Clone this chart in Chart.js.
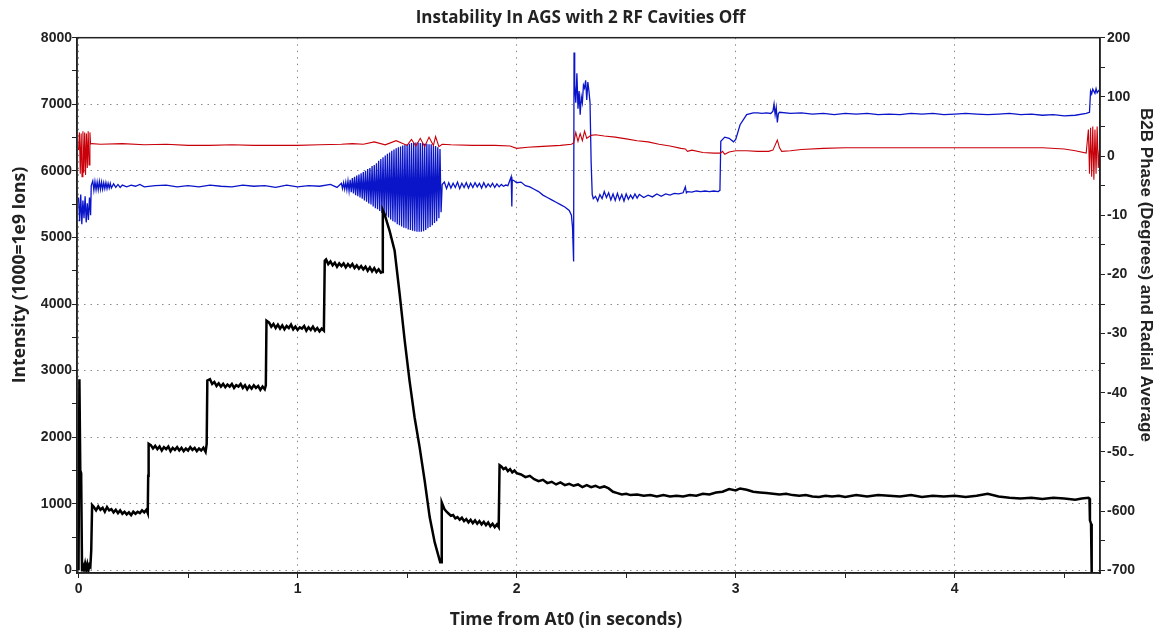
<!DOCTYPE html>
<html>
<head>
<meta charset="utf-8">
<title>Instability In AGS with 2 RF Cavities Off</title>
<script src="https://cdn.jsdelivr.net/npm/chart.js@4.4.1/dist/chart.umd.min.js"></script>
<style>
  html, body { margin: 0; padding: 0; background: #fff; overflow: hidden; }
  canvas { display: block; }
</style>
</head>
<body>
<canvas id="agsChart" width="1161" height="632"></canvas>
<script>
const chartTitle = 'Instability In AGS with 2 RF Cavities Off';
const xTitle = 'Time from At0 (in seconds)';
const leftTitle = 'Intensity (1000=1e9 Ions)';
const rightTitle = 'B2B Phase (Degrees) and Radial Average';

const xTicks = [0, 0.5, 1, 1.5, 2, 2.5, 3, 3.5, 4, 4.5];
const intensityTicks = [0, 500, 1000, 1500, 2000, 2500, 3000, 3500, 4000, 4500, 5000, 5500, 6000, 6500, 7000, 7500, 8000];
const phaseTicks = [-700, -650, -600, -550, -500, -450, -400, -350, -300, -250, -200, -150, -100, -50, 0, 50, 100, 150, 200];

// [time in s, intensity] - left axis
const intensity = [
  [0, 0], [0.004, 2870], [0.008, 1500], [0.012, 1460], [0.016, 0], [0.02, 80], [0.025, 20], [0.03, 100],
  [0.035, 10], [0.04, 90], [0.045, 0], [0.05, 80], [0.054, 60], [0.058, 300], [0.062, 980],
  [0.07, 950], [0.08, 900], [0.09, 960], [0.1, 910], [0.11, 940], [0.12, 880], [0.13, 950], [0.14, 900],
  [0.15, 920], [0.16, 870], [0.17, 910], [0.18, 860], [0.19, 900], [0.2, 850], [0.21, 880], [0.22, 840],
  [0.23, 870], [0.24, 830], [0.25, 880], [0.26, 850], [0.27, 880], [0.28, 860], [0.29, 900], [0.3, 870],
  [0.31, 910], [0.316, 860], [0.318, 1420], [0.32, 1900],
  [0.33, 1880], [0.34, 1830], [0.35, 1870], [0.36, 1820], [0.37, 1860], [0.38, 1800], [0.39, 1850], [0.4, 1820],
  [0.41, 1860], [0.42, 1790], [0.43, 1840], [0.44, 1810], [0.45, 1850], [0.46, 1800], [0.47, 1840], [0.48, 1790],
  [0.49, 1830], [0.5, 1800], [0.51, 1850], [0.52, 1810], [0.53, 1840], [0.54, 1790], [0.55, 1830], [0.56, 1800],
  [0.57, 1840], [0.58, 1780], [0.585, 1900], [0.588, 2850],
  [0.6, 2870], [0.61, 2800], [0.62, 2830], [0.63, 2770], [0.64, 2810], [0.65, 2760], [0.66, 2800], [0.67, 2750],
  [0.68, 2790], [0.69, 2760], [0.7, 2800], [0.71, 2740], [0.72, 2780], [0.73, 2760], [0.74, 2800], [0.75, 2740],
  [0.76, 2780], [0.77, 2720], [0.78, 2770], [0.79, 2730], [0.8, 2780], [0.81, 2740], [0.82, 2770], [0.83, 2710],
  [0.84, 2760], [0.85, 2720], [0.855, 2780], [0.858, 3750],
  [0.87, 3720], [0.88, 3660], [0.89, 3700], [0.9, 3640], [0.91, 3690], [0.92, 3630], [0.93, 3680], [0.94, 3620],
  [0.95, 3670], [0.96, 3640], [0.97, 3690], [0.98, 3620], [0.99, 3660], [1.0, 3610], [1.01, 3650], [1.02, 3630],
  [1.03, 3670], [1.04, 3600], [1.05, 3650], [1.06, 3610], [1.07, 3660], [1.08, 3600], [1.09, 3640], [1.1, 3590],
  [1.11, 3630], [1.12, 3600], [1.124, 4650],
  [1.13, 4670], [1.14, 4600], [1.15, 4640], [1.16, 4580], [1.17, 4620], [1.18, 4560], [1.19, 4610], [1.2, 4570],
  [1.21, 4610], [1.22, 4550], [1.23, 4600], [1.24, 4560], [1.25, 4600], [1.26, 4540], [1.27, 4580], [1.28, 4530],
  [1.29, 4570], [1.3, 4520], [1.31, 4560], [1.32, 4500], [1.33, 4550], [1.34, 4490], [1.35, 4540], [1.36, 4480],
  [1.37, 4520], [1.38, 4470], [1.386, 4480], [1.389, 5410],
  [1.397, 5350], [1.42, 5100], [1.443, 4800], [1.466, 4150], [1.489, 3450], [1.511, 2850], [1.534, 2300],
  [1.557, 1850], [1.58, 1350], [1.603, 800], [1.626, 420], [1.651, 120], [1.655, 120], [1.658, 1020],
  [1.67, 920], [1.68, 880], [1.69, 850], [1.7, 820], [1.71, 830], [1.72, 780], [1.73, 800], [1.74, 760],
  [1.75, 790], [1.76, 740], [1.77, 770], [1.78, 720], [1.79, 760], [1.8, 710], [1.81, 750], [1.82, 700],
  [1.83, 740], [1.84, 690], [1.85, 730], [1.86, 680], [1.87, 720], [1.88, 660], [1.89, 700], [1.9, 650],
  [1.91, 690], [1.918, 650], [1.922, 1580],
  [1.93, 1560], [1.94, 1520], [1.95, 1540], [1.96, 1490], [1.97, 1520], [1.98, 1470], [1.99, 1500], [2.0, 1460],
  [2.02, 1440], [2.04, 1400], [2.06, 1420], [2.08, 1370], [2.1, 1340], [2.12, 1360], [2.14, 1310], [2.16, 1330],
  [2.18, 1290], [2.2, 1320], [2.22, 1280], [2.24, 1300], [2.26, 1270], [2.28, 1290], [2.3, 1250], [2.32, 1280],
  [2.34, 1250], [2.36, 1270], [2.38, 1240], [2.4, 1260], [2.42, 1230], [2.44, 1180], [2.46, 1160], [2.48, 1140],
  [2.5, 1150], [2.52, 1130], [2.55, 1140], [2.58, 1120], [2.61, 1130], [2.64, 1110], [2.67, 1130], [2.7, 1110],
  [2.73, 1120], [2.76, 1110], [2.79, 1130], [2.82, 1120], [2.85, 1150], [2.88, 1140], [2.91, 1170], [2.94, 1180],
  [2.97, 1220], [3.0, 1200], [3.02, 1230], [3.05, 1210], [3.08, 1180], [3.11, 1170], [3.14, 1160], [3.17, 1150],
  [3.2, 1140], [3.23, 1150], [3.26, 1130], [3.29, 1120], [3.32, 1130], [3.35, 1110], [3.38, 1100], [3.41, 1120],
  [3.44, 1110], [3.47, 1120], [3.5, 1100], [3.55, 1130], [3.6, 1110], [3.65, 1130], [3.7, 1120], [3.75, 1110],
  [3.8, 1130], [3.85, 1100], [3.9, 1120], [3.95, 1110], [4.0, 1120], [4.05, 1100], [4.1, 1120], [4.15, 1150],
  [4.2, 1110], [4.25, 1090], [4.3, 1080], [4.35, 1090], [4.4, 1070], [4.45, 1090], [4.5, 1080], [4.55, 1060],
  [4.58, 1080], [4.61, 1090], [4.615, 1080], [4.617, 750], [4.622, 700], [4.625, -40]
];

// [time in s, B2B phase in degrees] - right axis
const b2bPhase = [
  [0, 10], [0.004, 40], [0.008, -30], [0.012, 38], [0.016, -35], [0.02, 42], [0.024, -28], [0.028, 40],
  [0.032, -32], [0.036, 38], [0.04, -20], [0.044, 42], [0.048, -15], [0.052, 40], [0.055, 20],
  [0.06, 21], [0.1, 20], [0.2, 21], [0.3, 19], [0.4, 20], [0.5, 18], [0.6, 18], [0.7, 19], [0.8, 18],
  [0.9, 18], [1.0, 18], [1.1, 19], [1.2, 20], [1.25, 21], [1.3, 20], [1.35, 24], [1.4, 19], [1.45, 26],
  [1.5, 18], [1.52, 28], [1.54, 17], [1.56, 30], [1.58, 16], [1.6, 32], [1.62, 18], [1.63, 33], [1.645, 16],
  [1.66, 20], [1.7, 19], [1.8, 18], [1.9, 18], [1.97, 17], [2.0, 13], [2.05, 15], [2.1, 16], [2.2, 18],
  [2.25, 20], [2.26, 22], [2.27, 40], [2.28, 25], [2.29, 38], [2.3, 26], [2.31, 42], [2.32, 30], [2.34, 35],
  [2.36, 36], [2.4, 34], [2.45, 32], [2.5, 29], [2.55, 26], [2.6, 24], [2.65, 20], [2.7, 17], [2.75, 13],
  [2.77, 12], [2.78, 8], [2.8, 10], [2.85, 6], [2.9, 5], [2.93, 5], [2.94, 8], [2.95, 3], [2.97, 7],
  [3.0, 9], [3.05, 9], [3.1, 8], [3.15, 8], [3.17, 10], [3.19, 27], [3.2, 14], [3.21, 8], [3.25, 9],
  [3.3, 11], [3.4, 13], [3.5, 14], [3.6, 14], [3.8, 14], [4.0, 14], [4.2, 14], [4.4, 14], [4.5, 12],
  [4.55, 9], [4.6, 5], [4.61, 45], [4.615, -30], [4.62, 48], [4.625, -35], [4.63, 50], [4.635, -40],
  [4.64, 45], [4.645, -30], [4.65, 50], [4.655, -20], [4.66, 10]
];

// [time in s, radial average] - right axis
const radialAverage = [
  [0, -70], [0.005, -110], [0.01, -65], [0.015, -115], [0.02, -75], [0.025, -105], [0.03, -68], [0.035, -112],
  [0.04, -80], [0.045, -108], [0.05, -70], [0.055, -100], [0.058, -50],
  [0.065, -42], [0.07, -58], [0.075, -43], [0.08, -57], [0.085, -44], [0.09, -57], [0.095, -43], [0.1, -56],
  [0.105, -44], [0.11, -56], [0.115, -45], [0.12, -55], [0.125, -45], [0.13, -55], [0.135, -46], [0.14, -54],
  [0.145, -46], [0.15, -54], [0.16, -47], [0.17, -53], [0.18, -48], [0.19, -53], [0.2, -49], [0.22, -52],
  [0.24, -49], [0.26, -51], [0.28, -48], [0.3, -52], [0.35, -50], [0.4, -49], [0.45, -52], [0.5, -50],
  [0.55, -52], [0.6, -49], [0.65, -51], [0.7, -52], [0.75, -49], [0.8, -51], [0.85, -50], [0.9, -53],
  [0.95, -49], [1.0, -52], [1.05, -50], [1.1, -51], [1.15, -48], [1.18, -53],
  [1.2, -46], [1.205, -55], [1.21, -45], [1.215, -56], [1.22, -44], [1.225, -57], [1.23, -42], [1.235, -59],
  [1.24, -40], [1.245, -61], [1.25, -37], [1.255, -63], [1.26, -35], [1.265, -66], [1.27, -33], [1.275, -68],
  [1.28, -31], [1.285, -70], [1.29, -29], [1.295, -72], [1.3, -27], [1.305, -75], [1.31, -25], [1.315, -77],
  [1.32, -22], [1.325, -80], [1.33, -20], [1.335, -82], [1.34, -17], [1.345, -85], [1.35, -15], [1.355, -88],
  [1.36, -12], [1.365, -90], [1.37, -8], [1.375, -93], [1.38, -5], [1.385, -96], [1.39, -2], [1.395, -99],
  [1.4, 1], [1.405, -101], [1.41, 4], [1.415, -104], [1.42, 6], [1.425, -107], [1.43, 9], [1.435, -110],
  [1.44, 11], [1.445, -112], [1.45, 13], [1.455, -115], [1.46, 15], [1.465, -117], [1.47, 16], [1.475, -119],
  [1.48, 18], [1.485, -121], [1.49, 19], [1.495, -122], [1.5, 20], [1.505, -124], [1.51, 21], [1.515, -125],
  [1.52, 22], [1.525, -126], [1.53, 22], [1.535, -127], [1.54, 23], [1.545, -128], [1.55, 23], [1.555, -128],
  [1.56, 22], [1.565, -128], [1.57, 22], [1.575, -127], [1.58, 21], [1.585, -125], [1.59, 21], [1.595, -122],
  [1.6, 20], [1.605, -120], [1.61, 20], [1.615, -117], [1.62, 18], [1.625, -113], [1.63, 17], [1.635, -110],
  [1.64, 15], [1.645, -105], [1.65, 12], [1.655, -95], [1.66, -48],
  [1.67, -44], [1.68, -55], [1.69, -45], [1.7, -54], [1.71, -46], [1.72, -53], [1.73, -44], [1.74, -55],
  [1.75, -46], [1.76, -53], [1.77, -45], [1.78, -54], [1.79, -46], [1.8, -53], [1.81, -45], [1.82, -52],
  [1.83, -46], [1.84, -54], [1.85, -45], [1.86, -53], [1.87, -47], [1.88, -52], [1.89, -46], [1.9, -53],
  [1.91, -47], [1.92, -52], [1.93, -48], [1.94, -51], [1.95, -49], [1.96, -50], [1.97, -40], [1.975, -35],
  [1.978, -85], [1.98, -40], [1.99, -42], [2.0, -45], [2.02, -44], [2.04, -50], [2.06, -52], [2.08, -56],
  [2.1, -60], [2.12, -66], [2.14, -70], [2.16, -74], [2.18, -78], [2.2, -82], [2.22, -86], [2.24, -92],
  [2.25, -100], [2.255, -120], [2.26, -178], [2.262, 175], [2.265, 120], [2.27, 90], [2.275, 140], [2.28, 80],
  [2.285, 110], [2.29, 70], [2.295, 100], [2.3, 90], [2.305, 120], [2.31, 115], [2.315, 128], [2.32, 95],
  [2.325, 125], [2.33, 110], [2.335, 90], [2.34, -10], [2.345, -65],
  [2.35, -72], [2.36, -68], [2.37, -76], [2.38, -65], [2.39, -72], [2.4, -60], [2.41, -70], [2.42, -62],
  [2.43, -74], [2.44, -64], [2.45, -75], [2.46, -63], [2.47, -74], [2.48, -65], [2.49, -76], [2.5, -64],
  [2.51, -73], [2.52, -66], [2.53, -72], [2.54, -64], [2.55, -71], [2.56, -65], [2.58, -70], [2.6, -66],
  [2.62, -69], [2.64, -64], [2.66, -68], [2.68, -64], [2.7, -66], [2.72, -63], [2.74, -64], [2.76, -62],
  [2.77, -52], [2.775, -62], [2.78, -60], [2.8, -61], [2.82, -59], [2.84, -60], [2.86, -59], [2.88, -60],
  [2.9, -59], [2.92, -60], [2.928, -58], [2.932, 25], [2.95, 32], [2.97, 30], [2.99, 24], [3.0, 28],
  [3.02, 53], [3.05, 70], [3.08, 73], [3.1, 73], [3.12, 72], [3.14, 73], [3.16, 72], [3.17, 76],
  [3.175, 88], [3.18, 70], [3.185, 82], [3.19, 57], [3.195, 72], [3.2, 74], [3.25, 72], [3.3, 73],
  [3.35, 71], [3.4, 72], [3.45, 70], [3.5, 72], [3.55, 71], [3.6, 72], [3.65, 70], [3.7, 71],
  [3.75, 70], [3.8, 72], [3.85, 71], [3.9, 72], [3.95, 70], [4.0, 71], [4.05, 72], [4.1, 71],
  [4.15, 70], [4.2, 71], [4.25, 72], [4.3, 70], [4.35, 71], [4.4, 69], [4.45, 70], [4.5, 68],
  [4.55, 69], [4.6, 72], [4.615, 74], [4.62, 110], [4.625, 105], [4.63, 113], [4.64, 106], [4.645, 114],
  [4.65, 107], [4.66, 112]
];

const toPoints = (rows) => rows.map(([x, y]) => ({ x: x, y: y }));

const tickFont = { family: 'Liberation Sans', size: 14, weight: 'bold' };
const axisColor = '#222';
const gridColor = '#8a8a8a';

// frame on top of the plot plus the three axis titles (right one covers the long tick labels)
const frameAndTitles = {
  id: 'frameAndTitles',
  afterDraw(chart) {
    const { ctx, chartArea } = chart;
    const midY = 275;
    ctx.save();
    ctx.strokeStyle = axisColor;
    ctx.lineWidth = 1.5;
    ctx.strokeRect(chartArea.left, chartArea.top, chartArea.right - chartArea.left, chartArea.bottom - chartArea.top);

    ctx.fillStyle = axisColor;
    ctx.textAlign = 'center';
    ctx.textBaseline = 'middle';
    ctx.font = 'bold 17.5px "Open Sans"';
    ctx.fillText(xTitle, 566, chart.height - 12);

    ctx.save();
    ctx.translate(20, midY);
    ctx.rotate(-Math.PI / 2);
    ctx.fillText(leftTitle, 0, 0);
    ctx.restore();

    ctx.fillStyle = '#fff';
    ctx.fillRect(chart.width - 34, 102, 34, 352);
    ctx.fillStyle = axisColor;
    ctx.font = 'bold 17px "Liberation Sans"';
    ctx.save();
    ctx.translate(chart.width - 15, midY);
    ctx.rotate(Math.PI / 2);
    ctx.fillText(rightTitle, 0, 0);
    ctx.restore();
    ctx.restore();
  }
};

const ctx = document.getElementById('agsChart').getContext('2d');
new Chart(ctx, {
  type: 'line',
  data: {
    datasets: [
      {
        label: 'Intensity',
        data: toPoints(intensity),
        yAxisID: 'y',
        borderColor: '#000',
        borderWidth: 2.5,
        pointRadius: 0,
        order: 1
      },
      {
        label: 'B2B Phase',
        data: toPoints(b2bPhase),
        yAxisID: 'y2',
        borderColor: '#c8000a',
        borderWidth: 1.1,
        pointRadius: 0,
        order: 2
      },
      {
        label: 'Radial Average',
        data: toPoints(radialAverage),
        yAxisID: 'y2',
        borderColor: '#0a14c8',
        borderWidth: 1.3,
        pointRadius: 0,
        order: 3
      }
    ]
  },
  options: {
    responsive: false,
    animation: false,
    devicePixelRatio: 1,
    layout: { padding: 0 },
    plugins: {
      legend: { display: false },
      tooltip: { enabled: false },
      title: {
        display: true,
        text: chartTitle,
        color: axisColor,
        font: { family: 'Open Sans', size: 17, weight: 'bold', lineHeight: 1.1 },
        padding: { top: 9, bottom: 10 }
      }
    },
    scales: {
      x: {
        type: 'linear',
        min: -0.007,
        max: 4.663,
        afterBuildTicks: (scale) => { scale.ticks = xTicks.map(v => ({ value: v })); },
        afterFit: (scale) => { scale.height = 59; },
        ticks: {
          autoSkip: false,
          maxRotation: 0,
          padding: 3,
          color: axisColor,
          font: tickFont,
          callback: (v) => Number.isInteger(v) ? v : ''
        },
        grid: {
          color: (c) => Number.isInteger(c.tick && c.tick.value) ? gridColor : 'rgba(0,0,0,0)',
          tickColor: axisColor,
          tickLength: 5
        },
        border: { color: axisColor, width: 1.5, dash: [1.5, 5] }
      },
      y: {
        position: 'left',
        min: -40,
        max: 8000,
        afterBuildTicks: (scale) => { scale.ticks = intensityTicks.map(v => ({ value: v })); },
        afterFit: (scale) => { scale.width = 77; },
        ticks: {
          autoSkip: false,
          padding: 0,
          color: axisColor,
          font: tickFont,
          callback: (v) => v % 1000 === 0 ? v : ''
        },
        grid: {
          color: (c) => (c.tick && c.tick.value % 1000 === 0) ? gridColor : 'rgba(0,0,0,0)',
          tickColor: axisColor,
          tickLength: 5
        },
        border: { color: axisColor, width: 1.5, dash: [1.5, 5] }
      },
      y2: {
        position: 'right',
        min: -704.5,
        max: 200,
        afterBuildTicks: (scale) => { scale.ticks = phaseTicks.map(v => ({ value: v })); },
        afterFit: (scale) => { scale.width = 61; },
        ticks: {
          autoSkip: false,
          padding: 2,
          color: axisColor,
          font: tickFont,
          callback: (v) => v % 100 === 0 ? v : ''
        },
        grid: {
          drawOnChartArea: false,
          tickColor: axisColor,
          tickLength: 5
        },
        border: { color: axisColor, width: 1.5 }
      }
    }
  },
  plugins: [frameAndTitles]
});
</script>
</body>
</html>
